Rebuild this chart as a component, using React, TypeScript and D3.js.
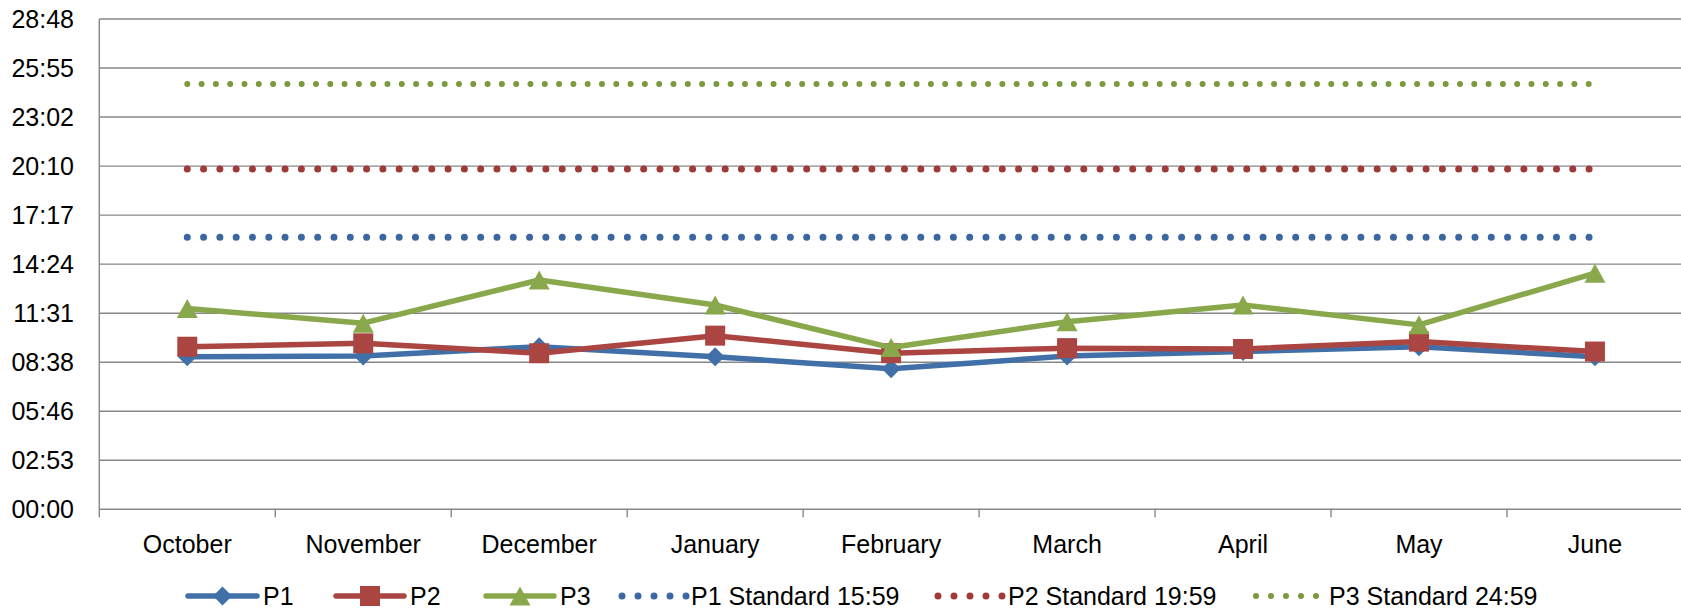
import React from "react";
import * as d3 from "d3";

const months = ["October", "November", "December", "January", "February", "March", "April", "May", "June"];
const p1 = ["8:58", "9:00", "9:33", "8:58", "8:15", "9:00", "9:16", "9:33", "8:58"];
const p2 = ["9:33", "9:45", "9:10", "10:12", "9:10", "9:28", "9:25", "9:51", "9:16"];
const p3 = ["11:48", "10:56", "13:28", "12:00", "9:30", "11:01", "12:00", "10:50", "13:52"];
const standards = ["15:59", "19:59", "24:59"];
const yMax = "28:48";
const yTickCount = 10;

const toSec = (s: string) => {
  const [m, sec] = s.split(":").map(Number);
  return m * 60 + sec;
};
const fmt = (v: number) => {
  const r = Math.round(v);
  const m = Math.floor(r / 60);
  const s = r % 60;
  return `${String(m).padStart(2, "0")}:${String(s).padStart(2, "0")}`;
};

const W = 1681;
const H = 615;
const left = 99.3;
const band = 175.96;
const yBottom = 509.3;
const yTop = 19;
const FONT = "'Liberation Sans', Arial, sans-serif";
const FS = 25;

const lineSeries = [
  { name: "P1", values: p1, color: "#4170A8", marker: "diamond" },
  { name: "P2", values: p2, color: "#AA4542", marker: "square" },
  { name: "P3", values: p3, color: "#89A84C", marker: "triangle" },
];
const stdSeries = [
  { name: "P1 Standard " + standards[0], value: standards[0], color: "#3B67A1", w: 7, gap: 16.3 },
  { name: "P2 Standard " + standards[1], value: standards[1], color: "#9E3A38", w: 7, gap: 16.3 },
  { name: "P3 Standard " + standards[2], value: standards[2], color: "#7A9A3C", w: 6, gap: 14.3 },
];

function Marker({ type, x, y, color }: { type: string; x: number; y: number; color: string }) {
  if (type === "diamond") {
    const r = 9.5;
    return <path d={`M${x},${y - r}L${x + r},${y}L${x},${y + r}L${x - r},${y}Z`} fill={color} />;
  }
  if (type === "square") {
    const s = 20;
    return <rect x={x - s / 2} y={y - s / 2} width={s} height={s} fill={color} />;
  }
  const w = 21, h = 19;
  return <path d={`M${x},${y - h / 2}L${x + w / 2},${y + h / 2}L${x - w / 2},${y + h / 2}Z`} fill={color} />;
}

export default function App() {
  const x = d3.scaleBand<string>().domain(months).range([left, left + band * months.length]);
  const cx = (m: string) => (x(m) as number) + x.bandwidth() / 2;
  const max = toSec(yMax);
  const y = d3.scaleLinear().domain([0, max]).range([yBottom, yTop]);
  const ticks = d3.range(0, yTickCount + 1).map((i) => (max * i) / yTickCount);
  const line = d3
    .line<[number, number]>()
    .x((d) => d[0])
    .y((d) => d[1]);

  const xStart = cx(months[0]);
  const xEnd = cx(months[months.length - 1]);

  const legendLines = [
    { s: lineSeries[0], x0: 188, x1: 257, tx: 263 },
    { s: lineSeries[1], x0: 336, x1: 404, tx: 410 },
    { s: lineSeries[2], x0: 486, x1: 554, tx: 560 },
  ];
  const legendStd = [
    { s: stdSeries[0], x0: 622, x1: 686, tx: 691 },
    { s: stdSeries[1], x0: 938, x1: 1002, tx: 1008 },
    { s: stdSeries[2], x0: 1256, x1: 1316, tx: 1329 },
  ];
  const legY = 596;

  return (
    <svg width={W} height={H} style={{ position: "absolute", left: 0, top: 0, background: "#fff" }} fontFamily={FONT}>
      <rect width={W} height={H} fill="#fff" />
      {ticks.map((t, i) => (
        <line key={i} x1={left} x2={left + band * months.length} y1={y(t)} y2={y(t)} stroke="#878787" strokeWidth={1.4} />
      ))}
      <line x1={left} x2={left} y1={yTop} y2={yBottom + 8} stroke="#878787" strokeWidth={1.4} />
      {months.map((m, i) => (
        <line key={m} x1={left + band * (i + 1)} x2={left + band * (i + 1)} y1={yBottom} y2={yBottom + 8} stroke="#878787" strokeWidth={1.4} />
      ))}
      {ticks.map((t, i) => (
        <text key={i} x={74} y={y(t)} dy="0.35em" textAnchor="end" fontSize={FS} fill="#000">
          {fmt(t)}
        </text>
      ))}
      {months.map((m) => (
        <text key={m} x={cx(m)} y={553} textAnchor="middle" fontSize={FS} fill="#000">
          {m}
        </text>
      ))}
      {stdSeries.map((s) => (
        <line
          key={s.name}
          x1={xStart}
          x2={xEnd}
          y1={y(toSec(s.value))}
          y2={y(toSec(s.value))}
          stroke={s.color}
          strokeWidth={s.w}
          strokeLinecap="round"
          strokeDasharray={`0 ${s.gap}`}
        />
      ))}
      {lineSeries.map((s) => {
        const pts: [number, number][] = s.values.map((v, i) => [cx(months[i]), y(toSec(v))]);
        return (
          <g key={s.name}>
            <path d={line(pts) || ""} fill="none" stroke={s.color} strokeWidth={5.5} strokeLinejoin="round" />
            {pts.map((p, i) => (
              <Marker key={i} type={s.marker} x={p[0]} y={p[1]} color={s.color} />
            ))}
          </g>
        );
      })}
      {legendLines.map((l) => (
        <g key={l.s.name}>
          <line x1={l.x0} x2={l.x1} y1={legY} y2={legY} stroke={l.s.color} strokeWidth={5.5} strokeLinecap="round" />
          <Marker type={l.s.marker} x={(l.x0 + l.x1) / 2} y={legY} color={l.s.color} />
          <text x={l.tx} y={legY} dy="0.35em" fontSize={FS} fill="#000">
            {l.s.name}
          </text>
        </g>
      ))}
      {legendStd.map((l) => (
        <g key={l.s.name}>
          <line
            x1={l.x0}
            x2={l.x1 + 1}
            y1={legY}
            y2={legY}
            stroke={l.s.color}
            strokeWidth={l.s.w}
            strokeLinecap="round"
            strokeDasharray={`0 ${(l.x1 - l.x0) / 4}`}
          />
          <text x={l.tx} y={legY} dy="0.35em" fontSize={FS} fill="#000">
            {l.s.name}
          </text>
        </g>
      ))}
    </svg>
  );
}
